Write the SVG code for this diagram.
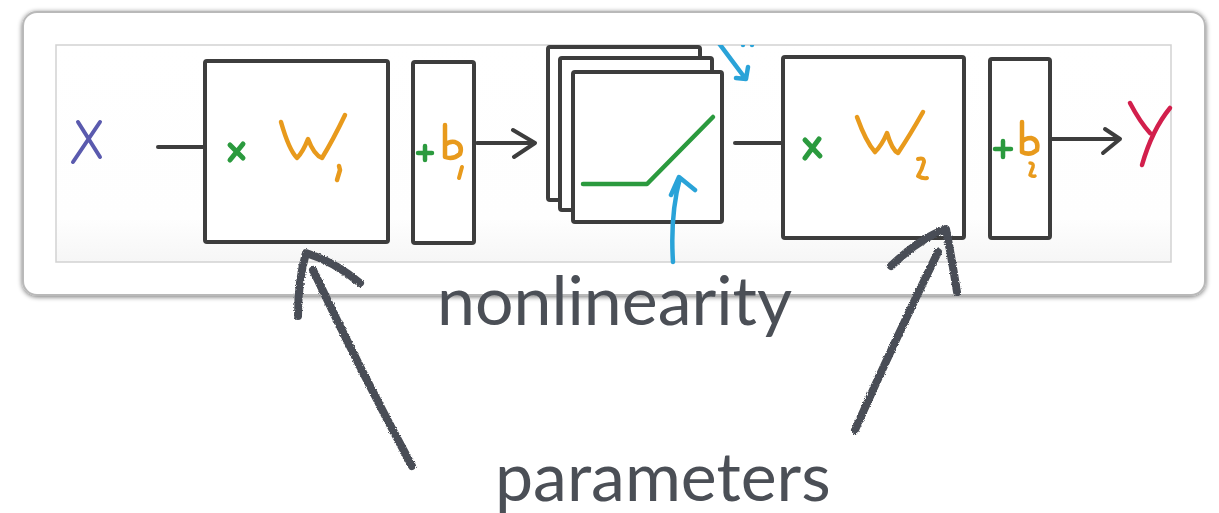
<svg xmlns="http://www.w3.org/2000/svg" width="1219" height="513" viewBox="0 0 1219 513">
  <defs>
    <filter id="cardShadow" x="-5%" y="-10%" width="110%" height="125%">
      <feGaussianBlur in="SourceAlpha" stdDeviation="2.5"/>
      <feOffset dx="0" dy="1" result="b"/>
      <feComponentTransfer><feFuncA type="linear" slope="0.55"/></feComponentTransfer>
      <feMerge><feMergeNode/><feMergeNode in="SourceGraphic"/></feMerge>
    </filter>
    <filter id="chalk" x="-20%" y="-20%" width="140%" height="140%">
      <feTurbulence type="fractalNoise" baseFrequency="0.9" numOctaves="2" seed="3"/>
      <feDisplacementMap in="SourceGraphic" scale="3" xChannelSelector="R" yChannelSelector="G"/>
    </filter>
    <linearGradient id="frameFill" x1="0" y1="0" x2="0" y2="1">
      <stop offset="0" stop-color="#ffffff"/>
      <stop offset="0.8" stop-color="#fefefe"/>
      <stop offset="1" stop-color="#f6f6f6"/>
    </linearGradient>
    <clipPath id="frameClip"><rect x="56" y="45" width="1115" height="217"/></clipPath>
    <style>
      .box { fill: #ffffff; stroke: #3d3d3d; stroke-width: 4; stroke-linejoin: round; }
      .wire { fill: none; stroke: #3d3d3d; stroke-width: 4; stroke-linecap: round; stroke-linejoin: round; }
      .ink { fill: none; stroke-linecap: round; stroke-linejoin: round; }
      .green { stroke: #2b9a3e; }
      .orange { stroke: #e89a1c; }
      .blue { stroke: #2aa3d8; }
      .chalk { fill: none; stroke: #4a4e56; stroke-width: 8; stroke-linecap: round; stroke-linejoin: round; }
      .label { font-family: Lato, "Open Sans", sans-serif; font-size: 68px; fill: #4b4f56; }
    </style>
  </defs>

  <rect width="1219" height="513" fill="#ffffff"/>

  <!-- card and image frame -->
  <rect x="23" y="12" width="1182" height="283" rx="14" fill="#ffffff" stroke="#b9b9b9" stroke-width="2" filter="url(#cardShadow)"/>
  <rect x="56" y="45" width="1115" height="217" fill="url(#frameFill)" stroke="#d2d2d2" stroke-width="1.5"/>

  <!-- input -->
  <g id="node-x">
    <path class="ink" stroke="#5a5aae" stroke-width="4" d="M78 122 L100 157 M100 122 L73 162"/>
  </g>

  <!-- first weight matrix -->
  <g id="node-w1">
    <rect class="box" x="205" y="61" width="183" height="181" rx="2"/>
    <path class="ink green" stroke-width="5" d="M230 145 L243 158 M243 144 L230 160"/>
    <path class="ink orange" stroke-width="4.5" d="M281 122 Q289 150 297 158 Q303 152 308 139 Q314 155 322 158 Q333 140 345 115"/>
    <path class="ink orange" stroke-width="4.5" d="M339 166 L340 170 L337 180"/>
  </g>

  <!-- first bias -->
  <g id="node-b1">
    <rect class="box" x="413" y="62" width="61" height="181" rx="2"/>
    <path class="ink green" stroke-width="4.5" d="M418 153 L432 153 M425 146 L425 160"/>
    <path class="ink orange" stroke-width="4.5" d="M445 125 L445 157 Q453 160 460 154 Q463 145 455 142 Q449 141 445 145"/>
    <path class="ink orange" stroke-width="4" d="M462 167 L459 178"/>
  </g>

  <!-- stacked nonlinearity units -->
  <g id="node-relu">
    <rect class="box" x="548" y="47" width="152" height="153" rx="2"/>
    <rect class="box" x="560" y="58" width="152" height="152" rx="2"/>
    <rect class="box" x="573" y="72" width="149" height="150" rx="2"/>
    <path class="ink green" stroke-width="4.5" d="M583 184 L647 184 L713 117"/>
  </g>

  <!-- second weight matrix -->
  <g id="node-w2">
    <rect class="box" x="783" y="57" width="181" height="181" rx="2"/>
    <path class="ink green" stroke-width="5" d="M805 140 L820 156 M819 139 L805 158"/>
    <path class="ink orange" stroke-width="4.5" d="M857 117 Q866 142 875 152 Q882 145 887 133 Q892 150 898 153 Q910 135 923 112"/>
    <path class="ink orange" stroke-width="4" d="M918 159 Q924 157 924 162 Q922 170 918 176 Q923 179 927 178"/>
  </g>

  <!-- second bias -->
  <g id="node-b2">
    <rect class="box" x="990" y="59" width="60" height="179" rx="2"/>
    <path class="ink green" stroke-width="4.5" d="M995 149 L1011 149 M1003 141 L1003 157"/>
    <path class="ink orange" stroke-width="4.5" d="M1022 122 L1022 152 Q1030 156 1037 150 Q1039 140 1031 138 Q1025 138 1022 142"/>
    <path class="ink orange" stroke-width="3.5" d="M1030 163 Q1034 163 1033 167 Q1031 172 1030 175 Q1033 177 1035 176"/>
  </g>

  <!-- output -->
  <g id="node-y">
    <path class="ink" stroke="#d21f4c" stroke-width="4.5" d="M1130 103 Q1140 122 1150 133 M1170 108 Q1152 130 1142 165"/>
  </g>

  <!-- connectors and annotation arrows -->
  <g id="connectors">
    <path class="wire" d="M158 147 L205 147"/>
    <path class="wire" d="M477 143 L535 143 M513 130 L535 143 L514 157"/>
    <path class="wire" d="M735 143 L783 143"/>
    <path class="wire" d="M1051 139 L1120 139 M1105 129 L1120 139 L1103 153"/>

    <!-- blue pointer into the nonlinearity -->
    <path class="ink blue" stroke-width="4.5" d="M673 262 Q670 215 680 178 M671 195 L679 177 L695 190"/>
    <g clip-path="url(#frameClip)">
      <path class="ink blue" stroke-width="4.5" d="M718 42 L745 78 M736 78 L746 79 L748 67"/>
      <circle cx="743" cy="45" r="2.2" fill="#2aa3d8"/>
      <circle cx="752" cy="45" r="2.2" fill="#2aa3d8"/>
    </g>

    <!-- hand-drawn parameter pointers -->
    <g filter="url(#chalk)">
      <path class="chalk" d="M412 466 Q360 370 313 270 M298 316 Q298 280 306 253 Q335 262 360 283"/>
      <path class="chalk" d="M855 430 Q895 340 938 252 M891 266 Q920 238 946 229 Q952 260 957 292"/>
    </g>
  </g>

  <!-- captions -->
  <text class="label" x="437" y="325">nonlinearity</text>
  <text class="label" x="495" y="501">parameters</text>
</svg>
